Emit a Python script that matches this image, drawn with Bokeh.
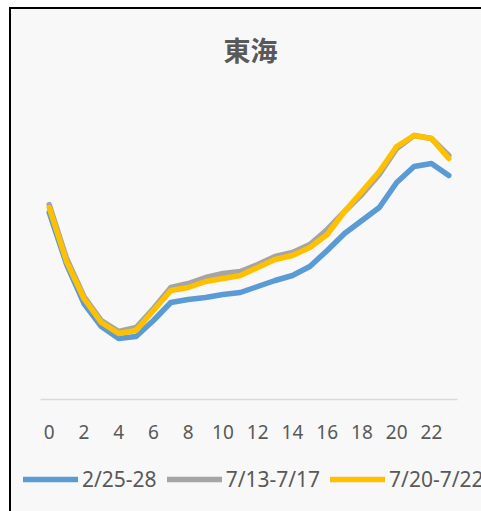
from bokeh.plotting import figure
from bokeh.layouts import column
from bokeh.models import Range1d, Legend, LegendItem, FixedTicker, Label
from bokeh.embed import file_html
from bokeh.resources import INLINE

hours = list(range(24))
tick_hours = list(range(0, 24, 2))
title_text = "東海"
series_names = ["2/25-28", "7/13-7/17", "7/20-7/22"]
colors = ["#5B9BD5", "#A5A5A5", "#FFC000"]

feb_25_28 = [187, 135, 96, 73, 61, 63, 79, 97, 100, 102, 105, 107,
             113, 119, 124, 133, 149, 166, 179, 192, 217, 233, 236, 224]
jul_13_17 = [195, 141, 103, 79, 68, 72, 91, 112, 116, 122, 126, 128,
             135, 143, 147, 155, 170, 188, 205, 225, 251, 264, 261, 244]
jul_20_22 = [192, 138, 101, 77, 66, 69, 89, 109, 112, 118, 121, 124,
             132, 140, 144, 152, 165, 188, 208, 228, 253, 264, 261, 241]

series = [feb_25_28, jul_13_17, jul_20_22]
BG = "#f8f8f8"
W = 470


def strip(height):
    f = figure(width=W, height=height, output_backend="svg",
               toolbar_location=None, x_range=Range1d(0, 1),
               y_range=Range1d(0, 1), x_axis_location=None,
               y_axis_location=None, min_border=0,
               background_fill_color=BG, border_fill_color=BG)
    f.outline_line_color = None
    f.grid.visible = False
    f.frame_align = False
    return f


# title strip
head = strip(90)
head.add_layout(Label(x=239, y=50, x_units="screen", y_units="screen",
                      text=title_text, text_align="center",
                      text_baseline="middle", text_font_size="27px",
                      text_color="#595959", text_font="Noto Sans CJK JP",
                      text_font_style="bold"))

# main chart
p = figure(width=W, height=363, output_backend="svg", toolbar_location=None,
           x_range=Range1d(-0.5, 23.5), y_range=Range1d(0, 300),
           y_axis_location=None,
           min_border_left=29, min_border_right=24, min_border_top=0,
           min_border_bottom=63,
           background_fill_color=BG, border_fill_color=BG)
p.outline_line_color = None
p.grid.visible = False
p.frame_align = False

ax = p.xaxis[0]
ax.ticker = FixedTicker(ticks=tick_hours)
ax.major_tick_line_color = None
ax.minor_tick_line_color = None
ax.axis_line_color = "#d9d9d9"
ax.axis_line_width = 1.5
ax.major_label_text_font_size = "19px"
ax.major_label_text_color = "#595959"
ax.major_label_text_font = "Noto Sans"
ax.major_label_standoff = 19

for ys, c in zip(series, colors):
    p.line(hours, ys, line_color=c, line_width=5.5, line_cap="round",
           line_join="round")

# legend strip
lg = strip(49)
items = []
nan = float("nan")
for name, c in zip(series_names, colors):
    r = lg.line([nan], [nan], line_color=c, line_width=5.5, line_cap="round")
    items.append(LegendItem(label=name, renderers=[r]))
legend = Legend(items=items, orientation="horizontal", location=(12, 18),
                border_line_color=None, background_fill_alpha=0,
                glyph_width=55, glyph_height=22, label_text_font_size="21px",
                label_text_font="Noto Sans", label_text_color="#595959",
                label_standoff=4, spacing=10, padding=0, margin=0)
lg.add_layout(legend, "center")

layout = column(head, p, lg, spacing=0,
                styles={"border-left": "2px solid #000",
                        "border-top": "2px solid #000",
                        "margin-left": "9px", "margin-top": "7px",
                        "background-color": BG})

open("out.html", "w").write(file_html(layout, INLINE))
